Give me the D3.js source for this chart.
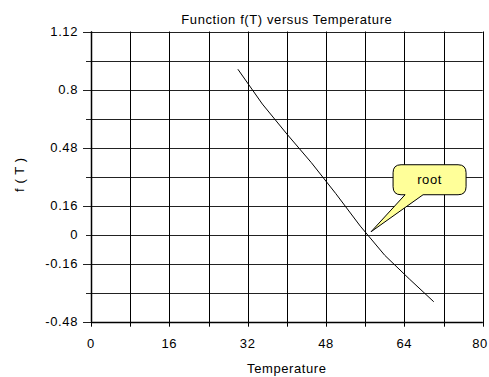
<!DOCTYPE html>
<html>
<head>
<meta charset="utf-8">
<script src="https://cdn.jsdelivr.net/npm/d3@7/dist/d3.min.js"></script>
<style>
  body { margin: 0; background: #fff; }
  text { font-family: "Liberation Sans", Arial, sans-serif; fill: #000; letter-spacing: 0.6px; }
</style>
</head>
<body>
<div id="chart"></div>
<script>
// values
const temperature = [30, 35, 40, 45, 50, 55, 60, 65, 70];
const fValues = [0.912, 0.72, 0.555, 0.397, 0.226, 0.047, -0.114, -0.244, -0.37];
const xTickLabels = [0, 16, 32, 48, 64, 80];
const yTickLabels = [1.12, 0.8, 0.48, 0.16, 0, -0.16, -0.48];
const rootPoint = [57.2, 0.016];

const width = 489, height = 377;
const plotLeft = 91, plotRight = 482.7, plotTop = 31.5, plotBottom = 321.7;

const svg = d3.select("#chart").append("svg")
  .attr("width", width)
  .attr("height", height);

const x = d3.scaleLinear().domain([0, 80]).range([plotLeft, plotRight]);
const y = d3.scaleLinear().domain([-0.48, 1.12]).range([plotBottom, plotTop]);

const xGrid = d3.range(0, 80.01, 8);
const yGrid = d3.range(-0.48, 1.1201, 0.16).map(v => +v.toFixed(2));
const yMajor = d3.range(-0.48, 1.1201, 0.32).map(v => +v.toFixed(2));

// grid
svg.append("g")
  .selectAll("line")
  .data(yGrid)
  .enter()
  .append("line")
  .attr("x1", d => x(0) - (yMajor.includes(d) ? 8 : 5))
  .attr("x2", x(80))
  .attr("y1", d => Math.round(y(d)) + 0.5)
  .attr("y2", d => Math.round(y(d)) + 0.5)
  .attr("stroke", "#222")
  .attr("stroke-width", 1);

svg.append("g")
  .selectAll("line")
  .data(xGrid)
  .enter()
  .append("line")
  .attr("x1", d => Math.round(x(d)) + 0.5)
  .attr("x2", d => Math.round(x(d)) + 0.5)
  .attr("y1", y(1.12))
  .attr("y2", y(-0.48) + 5)
  .attr("stroke", "#000")
  .attr("stroke-width", 1);

// axes lines
svg.append("line")
  .attr("x1", x(0)).attr("x2", x(80))
  .attr("y1", Math.round(y(-0.48)) + 0.5).attr("y2", Math.round(y(-0.48)) + 0.5)
  .attr("stroke", "#000").attr("stroke-width", 1.5);
svg.append("line")
  .attr("x1", Math.round(x(0)) + 0.5).attr("x2", Math.round(x(0)) + 0.5)
  .attr("y1", y(1.12)).attr("y2", y(-0.48))
  .attr("stroke", "#000").attr("stroke-width", 1.5);

// tick labels (last one nudged so it stays inside the window)
svg.append("g")
  .selectAll("text")
  .data(xTickLabels)
  .enter()
  .append("text")
  .attr("x", d => Math.min(x(d), width - 9))
  .attr("y", y(-0.48) + 26)
  .attr("text-anchor", "middle")
  .style("font-size", "13px")
  .text(d => d);

svg.append("g")
  .selectAll("text")
  .data(yTickLabels)
  .enter()
  .append("text")
  .attr("x", x(0) - 13)
  .attr("y", d => y(d) + 4.5)
  .attr("text-anchor", "end")
  .style("font-size", "13px")
  .text(d => d);

// titles
svg.append("text")
  .attr("x", (plotLeft + plotRight) / 2)
  .attr("y", 24)
  .attr("text-anchor", "middle")
  .style("font-size", "13px")
  .text("Function f(T) versus Temperature");

svg.append("text")
  .attr("x", (plotLeft + plotRight) / 2)
  .attr("y", 373)
  .attr("text-anchor", "middle")
  .style("font-size", "13px")
  .text("Temperature");

svg.append("text")
  .attr("transform", "translate(24," + ((plotTop + plotBottom) / 2 - 2) + ") rotate(-90)")
  .attr("text-anchor", "middle")
  .style("font-size", "13px")
  .text("f ( T )");

// data line
const line = d3.line()
  .x((d, i) => x(temperature[i]))
  .y(d => y(d));

svg.append("path")
  .datum(fValues)
  .attr("d", line)
  .attr("fill", "none")
  .attr("stroke", "#000")
  .attr("stroke-width", 1);

// callout
const tx = x(rootPoint[0]), ty = y(rootPoint[1]);
const bx0 = tx + 22, bx1 = tx + 95, by0 = ty - 67, by1 = ty - 37, r = 8;
const p = d3.path();
p.moveTo(bx0 + r, by0);
p.lineTo(bx1 - r, by0);
p.quadraticCurveTo(bx1, by0, bx1, by0 + r);
p.lineTo(bx1, by1 - r);
p.quadraticCurveTo(bx1, by1, bx1 - r, by1);
p.lineTo(tx + 52, by1);
p.lineTo(tx, ty);
p.lineTo(tx + 34, by1);
p.lineTo(bx0 + r, by1);
p.quadraticCurveTo(bx0, by1, bx0, by1 - r);
p.lineTo(bx0, by0 + r);
p.quadraticCurveTo(bx0, by0, bx0 + r, by0);
p.closePath();

svg.append("path")
  .attr("d", p.toString())
  .attr("fill", "#ffff99")
  .attr("stroke", "#000")
  .attr("stroke-width", 1);

svg.append("text")
  .attr("x", (bx0 + bx1) / 2)
  .attr("y", (by0 + by1) / 2 + 4.5)
  .attr("text-anchor", "middle")
  .style("font-size", "13px")
  .text("root");
</script>
</body>
</html>
